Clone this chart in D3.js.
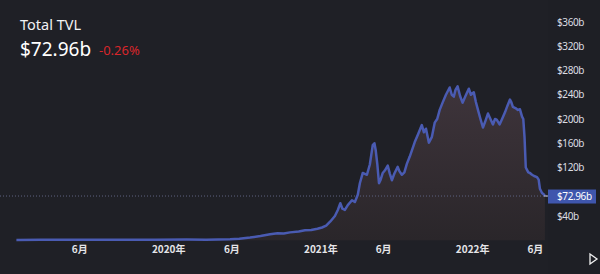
<!DOCTYPE html>
<html>
<head>
<meta charset="utf-8">
<script src="https://cdn.jsdelivr.net/npm/d3@7"></script>
<style>
  html, body { margin: 0; padding: 0; background: #1f2026; }
  svg { display: block; }
</style>
</head>
<body>
<div id="chart"></div>
<script>
const WIDTH = 600;
const HEIGHT = 274;
const PLOT_RIGHT = 548;

// values in billions of USD
const dates = [
    "2019-01-01", "2019-03-01", "2019-06-01", "2019-09-01", "2019-12-01", "2020-02-15", "2020-04-01",
    "2020-05-29", "2020-06-20", "2020-07-16", "2020-08-10", "2020-09-02", "2020-09-20", "2020-10-05",
    "2020-10-20", "2020-11-10", "2020-11-25", "2020-12-10", "2020-12-25", "2021-01-05", "2021-01-15",
    "2021-01-25", "2021-02-05", "2021-02-12", "2021-02-18", "2021-02-23", "2021-03-01", "2021-03-08",
    "2021-03-18", "2021-03-25", "2021-04-01", "2021-04-06", "2021-04-13", "2021-04-23", "2021-04-30",
    "2021-05-07", "2021-05-11", "2021-05-14", "2021-05-18", "2021-05-22", "2021-05-26", "2021-05-31",
    "2021-06-05", "2021-06-12", "2021-06-17", "2021-06-22", "2021-06-28", "2021-07-06", "2021-07-10",
    "2021-07-16", "2021-07-22", "2021-07-28", "2021-08-04", "2021-08-10", "2021-08-16", "2021-08-24",
    "2021-09-02", "2021-09-07", "2021-09-12", "2021-09-19", "2021-09-26", "2021-10-03", "2021-10-09",
    "2021-10-15", "2021-10-22", "2021-10-30", "2021-11-08", "2021-11-13", "2021-11-18", "2021-11-22",
    "2021-11-27", "2021-12-03", "2021-12-09", "2021-12-16", "2021-12-24", "2021-12-29", "2022-01-05",
    "2022-01-10", "2022-01-15", "2022-01-21", "2022-01-27", "2022-02-01", "2022-02-08", "2022-02-14",
    "2022-02-20", "2022-02-25", "2022-03-01", "2022-03-08", "2022-03-14", "2022-03-21", "2022-03-27",
    "2022-04-02", "2022-04-05", "2022-04-09", "2022-04-15", "2022-04-21", "2022-04-26", "2022-05-01",
    "2022-05-04", "2022-05-07", "2022-05-10", "2022-05-13", "2022-05-16", "2022-05-20", "2022-05-25",
    "2022-05-30", "2022-06-06", "2022-06-10", "2022-06-13", "2022-06-18", "2022-06-22", "2022-06-25"
];
const tvl = [
    0.6, 0.7, 0.9, 0.8, 0.8, 1.1, 0.9,
    1.7, 2.5, 4.5, 7, 10, 11.5, 11,
    13, 14.5, 16.5, 17, 19, 21, 24,
    31, 40, 50, 61, 52, 50, 58,
    66, 63, 75, 94, 111, 108, 125,
    157, 160, 149, 125, 94, 100, 111,
    115, 123, 110, 99, 110, 121, 114,
    108, 112, 126, 138, 150, 162, 175,
    190, 178, 184, 161, 170, 194, 200,
    215, 227, 240, 252, 240, 237, 248,
    254, 238, 227, 238, 250, 240, 244,
    228, 215, 200, 186, 195, 209, 200,
    191, 200, 199, 191, 200, 211, 222,
    232, 228, 220, 218, 215, 216, 204,
    200, 170, 120, 116, 112, 111, 108,
    106, 104, 100, 85, 78, 76, 73
];

// $80b sits behind the last value badge, so it is left out
const yTicks = [40, 120, 160, 200, 240, 280, 320, 360];
const xTicks = ["2019-06-01", "2020-01-01", "2020-06-01", "2021-01-01", "2021-06-01", "2022-01-01", "2022-06-01"];
const lastValue = 72.96;
const titleText = "Total TVL";
const valueText = "$72.96b";
const changeText = "-0.26%";

const parseDate = d3.timeParse("%Y-%m-%d");
const series = dates.map((d, i) => ({ date: parseDate(d), value: tvl[i] }));

const svg = d3.select("#chart")
    .append("svg")
    .attr("width", WIDTH)
    .attr("height", HEIGHT);

const x_scale = d3.scaleTime()
    .domain([parseDate("2019-01-01"), parseDate("2022-07-01")])
    .range([16.4, 547.4]);

const y_scale = d3.scaleLinear()
    .domain([0, 360])
    .range([240.25, 22]);

// price scale panel
svg.append("rect")
    .attr("x", PLOT_RIGHT)
    .attr("y", 0)
    .attr("width", WIDTH - PLOT_RIGHT)
    .attr("height", HEIGHT)
    .attr("fill", "#1e1f25");

// area gradient
const grad = svg.append("defs").append("linearGradient")
    .attr("id", "fillGrad")
    .attr("x1", 0).attr("y1", 0).attr("x2", 0).attr("y2", 1);
grad.append("stop").attr("offset", "0%").attr("stop-color", "#3e343b");
grad.append("stop").attr("offset", "100%").attr("stop-color", "#2a262a");

const area = d3.area()
    .x(d => x_scale(d.date))
    .y0(y_scale(0))
    .y1(d => y_scale(d.value));

const line = d3.line()
    .x(d => x_scale(d.date))
    .y(d => y_scale(d.value));

svg.append("path")
    .datum(series)
    .attr("d", area)
    .attr("fill", "url(#fillGrad)");

// dashed last value line
svg.append("line")
    .attr("x1", 0)
    .attr("x2", PLOT_RIGHT)
    .attr("y1", y_scale(lastValue))
    .attr("y2", y_scale(lastValue))
    .attr("stroke", "#5d6380")
    .attr("stroke-width", 1)
    .attr("stroke-dasharray", "1,2");

svg.append("path")
    .datum(series)
    .attr("d", line)
    .attr("fill", "none")
    .attr("stroke", "#4a5bb2")
    .attr("stroke-width", 2.5)
    .attr("stroke-linejoin", "round");

// y axis (right)
const yAxis = d3.axisRight(y_scale)
    .tickValues(yTicks)
    .tickSize(0)
    .tickPadding(9)
    .tickFormat(d => "$" + d + "b");

svg.append("g")
    .attr("class", "axis")
    .attr("transform", "translate(" + PLOT_RIGHT + ",0)")
    .call(yAxis)
    .call(g => g.select(".domain").remove())
    .selectAll("text")
    .attr("fill", "#dcdde2")
    .attr("font-family", "'Noto Sans', sans-serif")
    .attr("font-size", "10px")
    .attr("letter-spacing", "-0.4px");

// x axis
const xAxis = d3.axisBottom(x_scale)
    .tickValues(xTicks.map(parseDate))
    .tickSize(0)
    .tickPadding(0)
    .tickFormat(d => d.getMonth() === 0 ? d.getFullYear() + "年" : (d.getMonth() + 1) + "月");

svg.append("g")
    .attr("class", "axis")
    .attr("transform", "translate(0,246)")
    .call(xAxis)
    .call(g => g.select(".domain").remove())
    .selectAll("text")
    .attr("fill", "#e4e4e8")
    .attr("font-family", "'Noto Sans CJK SC', 'Noto Sans', sans-serif")
    .attr("font-weight", "bold")
    .attr("font-size", "10px");

// last value badge
const yLast = y_scale(lastValue);
svg.append("line")
    .attr("x1", PLOT_RIGHT - 4)
    .attr("x2", PLOT_RIGHT)
    .attr("y1", yLast)
    .attr("y2", yLast)
    .attr("stroke", "#c8cad8")
    .attr("stroke-width", 1);

svg.append("rect")
    .attr("x", PLOT_RIGHT)
    .attr("y", yLast - 6.5)
    .attr("width", 48)
    .attr("height", 14)
    .attr("fill", "#3f56ad");

svg.append("text")
    .attr("x", 557)
    .attr("y", yLast + 4)
    .attr("fill", "#ffffff")
    .attr("font-family", "'Noto Sans', sans-serif")
    .attr("font-size", "10px")
    .attr("letter-spacing", "-0.4px")
    .text("$" + lastValue + "b");

// play button
svg.append("path")
    .attr("d", "M590,254 L597,259 L590,264 Z")
    .attr("fill", "none")
    .attr("stroke", "#f0f0f0")
    .attr("stroke-width", 1.3);

// header
svg.append("text")
    .attr("x", 20)
    .attr("y", 30)
    .attr("fill", "#f2f2f4")
    .attr("font-family", "'Noto Sans', sans-serif")
    .attr("font-size", "14.5px")
    .text(titleText);

svg.append("text")
    .attr("x", 20)
    .attr("y", 56)
    .attr("fill", "#ffffff")
    .attr("font-family", "'Noto Sans', sans-serif")
    .attr("font-size", "19px")
    .text(valueText);

svg.append("text")
    .attr("x", 99)
    .attr("y", 55)
    .attr("fill", "#d8262b")
    .attr("font-family", "'Noto Sans', sans-serif")
    .attr("font-size", "13px")
    .text(changeText);
</script>
</body>
</html>
